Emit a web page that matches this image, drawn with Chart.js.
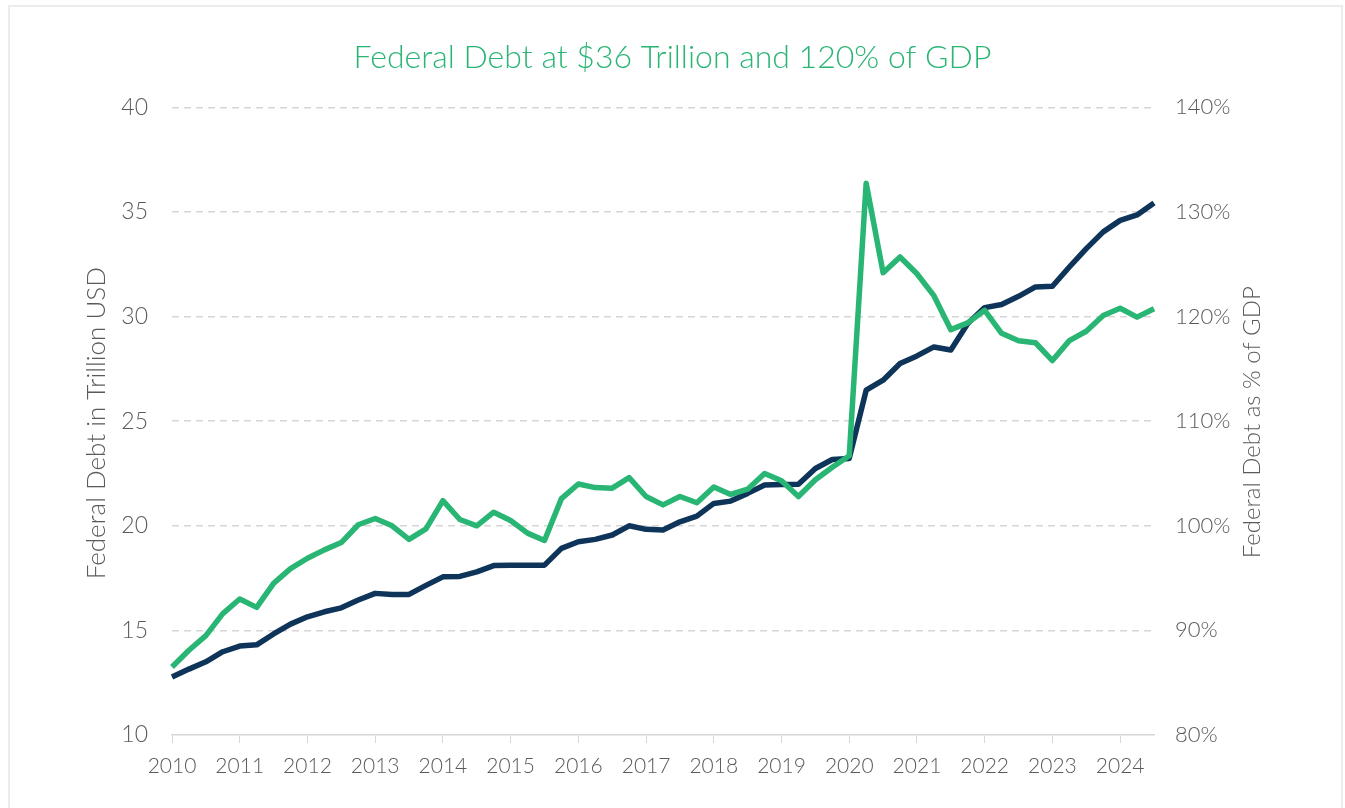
<!DOCTYPE html>
<html>
<head>
<meta charset="utf-8">
<script src="https://cdn.jsdelivr.net/npm/chart.js@4.4.1/dist/chart.umd.min.js"></script>
<style>
	html, body { margin: 0; padding: 0; background: #ffffff; overflow: hidden; }
	#wrap { position: relative; width: 1345px; height: 808px; }
	#frame { position: absolute; left: 8px; top: 5px; width: 1331px; height: 820px; border: 2px solid #ececec; pointer-events: none; }
</style>
</head>
<body>
<div id="wrap">
	<canvas id="debtChart" width="1345" height="808"></canvas>
	<div id="frame"></div>
</div>
<script>
// quarters, 2010 Q1 .. 2024 Q3
const quarters = [
	'2010 Q1', '2010 Q2', '2010 Q3', '2010 Q4',
	'2011 Q1', '2011 Q2', '2011 Q3', '2011 Q4',
	'2012 Q1', '2012 Q2', '2012 Q3', '2012 Q4',
	'2013 Q1', '2013 Q2', '2013 Q3', '2013 Q4',
	'2014 Q1', '2014 Q2', '2014 Q3', '2014 Q4',
	'2015 Q1', '2015 Q2', '2015 Q3', '2015 Q4',
	'2016 Q1', '2016 Q2', '2016 Q3', '2016 Q4',
	'2017 Q1', '2017 Q2', '2017 Q3', '2017 Q4',
	'2018 Q1', '2018 Q2', '2018 Q3', '2018 Q4',
	'2019 Q1', '2019 Q2', '2019 Q3', '2019 Q4',
	'2020 Q1', '2020 Q2', '2020 Q3', '2020 Q4',
	'2021 Q1', '2021 Q2', '2021 Q3', '2021 Q4',
	'2022 Q1', '2022 Q2', '2022 Q3', '2022 Q4',
	'2023 Q1', '2023 Q2', '2023 Q3', '2023 Q4',
	'2024 Q1', '2024 Q2', '2024 Q3'
];

// federal debt, trillion USD
const debtTrillion = [
	12.77, 13.15, 13.50, 13.98,
	14.25, 14.31, 14.83, 15.30,
	15.65, 15.89, 16.08, 16.45,
	16.77, 16.72, 16.72, 17.15,
	17.56, 17.58, 17.80, 18.10,
	18.12, 18.12, 18.12, 18.92,
	19.24, 19.35, 19.56, 20.00,
	19.83, 19.80, 20.19, 20.46,
	21.07, 21.18, 21.55, 21.95,
	21.98, 21.99, 22.74, 23.17,
	23.22, 26.48, 26.96, 27.76,
	28.12, 28.55, 28.40, 29.67,
	30.43, 30.58, 30.97, 31.42,
	31.45, 32.37, 33.25, 34.05,
	34.60, 34.86, 35.43
];

// federal debt as % of GDP
const debtPctGdp = [
	86.5, 88.1, 89.5, 91.6,
	93.0, 92.2, 94.5, 95.9,
	96.9, 97.7, 98.4, 100.1,
	100.7, 100.0, 98.7, 99.7,
	102.4, 100.6, 100.0, 101.3,
	100.5, 99.3, 98.6, 102.6,
	104.0, 103.65, 103.6, 104.6,
	102.8, 102.0, 102.8, 102.2,
	103.7, 103.0, 103.5, 105.0,
	104.3, 102.8, 104.4, 105.6,
	106.7, 132.75, 124.2, 125.7,
	124.1, 122.0, 118.75, 119.4,
	120.6, 118.4, 117.7, 117.5,
	115.8, 117.7, 118.6, 120.1,
	120.8, 119.95, 120.75
];

const leftTitle = 'Federal Debt in Trillion USD';
const rightTitle = 'Federal Debt as % of GDP';

const navy = '#0f3459';
const green = '#29b574';
const textGray = '#5a5a5a';
const gridGray = '#d6d6d6';
const fontFamily = 'Lato, "Open Sans", sans-serif';

// draws the two rotated axis titles (both read bottom to top)
const axisTitles = {
	id: 'axisTitles',
	afterDraw(chart) {
		const c = chart.ctx;
		const area = chart.chartArea;
		const midY = (area.top + area.bottom) / 2;
		c.save();
		c.fillStyle = textGray;
		c.textAlign = 'center';
		c.textBaseline = 'middle';

		c.font = '300 26px ' + fontFamily;
		c.save();
		c.translate(97, midY + 2);
		c.rotate(-Math.PI / 2);
		c.fillText(leftTitle, 0, 0);
		c.restore();

		c.font = '300 24px ' + fontFamily;
		c.save();
		c.translate(1252, midY + 1);
		c.rotate(-Math.PI / 2);
		c.fillText(rightTitle, 0, 0);
		c.restore();

		c.restore();
	}
};

const ctx = document.getElementById('debtChart').getContext('2d');

// green first so it is painted over the navy line
const chart = new Chart(ctx, {
	type: 'line',
	data: {
		labels: quarters,
		datasets: [
			{
				label: 'Federal Debt as % of GDP',
				data: debtPctGdp,
				yAxisID: 'yPct',
				borderColor: green,
				backgroundColor: green,
				borderWidth: 5.5,
				borderJoinStyle: 'round',
				pointRadius: 0,
				tension: 0
			},
			{
				label: 'Federal Debt (Trillion USD)',
				data: debtTrillion,
				yAxisID: 'yDebt',
				borderColor: navy,
				backgroundColor: navy,
				borderWidth: 5.5,
				borderJoinStyle: 'round',
				pointRadius: 0,
				tension: 0
			}
		]
	},
	options: {
		responsive: false,
		animation: false,
		layout: { padding: 0 },
		plugins: {
			legend: { display: false },
			tooltip: { enabled: false },
			title: {
				display: true,
				text: 'Federal Debt at $36 Trillion and 120% of GDP',
				color: green,
				font: { family: fontFamily, size: 32, weight: '300' },
				padding: { top: 38, bottom: 31 }
			}
		},
		scales: {
			x: {
				type: 'category',
				offset: false,
				grid: {
					drawOnChartArea: false,
					drawTicks: true,
					tickLength: 8,
					color: gridGray
				},
				border: { display: true, color: gridGray, width: 1.5 },
				ticks: {
					autoSkip: false,
					maxRotation: 0,
					padding: 11,
					color: textGray,
					font: { family: fontFamily, size: 21, weight: '300' },
					callback: function(value, index) {
						const lbl = quarters[index];
						return lbl.endsWith('Q1') ? lbl.slice(0, 4) : null;
					}
				},
				afterFit: function(scale) { scale.height = 73; }
			},
			yDebt: {
				type: 'linear',
				position: 'left',
				min: 10,
				max: 40,
				ticks: {
					stepSize: 5,
					padding: 24,
					color: textGray,
					font: { family: fontFamily, size: 23, weight: '300' }
				},
				grid: {
					drawTicks: false,
					lineWidth: 1.5,
					color: function(c) { return c.tick && c.tick.value === 10 ? 'rgba(0,0,0,0)' : gridGray; }
				},
				border: { display: false, dash: [7, 5] },
				afterFit: function(scale) { scale.width = 172; }
			},
			yPct: {
				type: 'linear',
				position: 'right',
				min: 80,
				max: 140,
				ticks: {
					stepSize: 10,
					padding: 21,
					color: textGray,
					font: { family: fontFamily, size: 22, weight: '300' },
					callback: function(value) { return value + '%'; }
				},
				grid: { drawOnChartArea: false, drawTicks: false },
				border: { display: false },
				afterFit: function(scale) { scale.width = 191; }
			}
		}
	},
	plugins: [axisTitles]
});
</script>
</body>
</html>
